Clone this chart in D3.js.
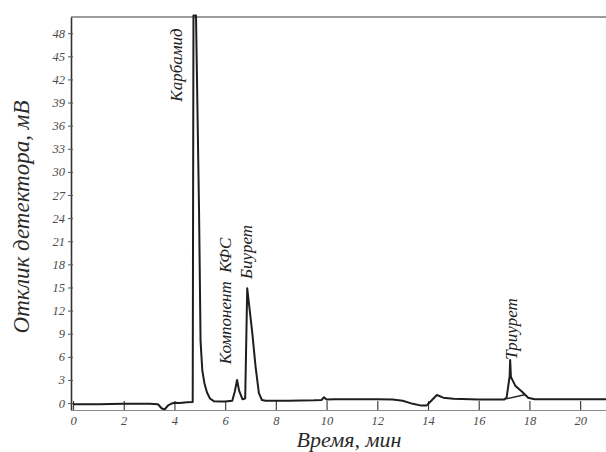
<!DOCTYPE html>
<html>
<head>
<meta charset="utf-8">
<script src="https://cdnjs.cloudflare.com/ajax/libs/d3/7.8.5/d3.min.js"></script>
<style>
  html, body { margin: 0; padding: 0; background: #fff; }
  svg { display: block; }
  .tick text { font-family: "Liberation Serif", "DejaVu Serif", serif; font-style: italic; fill: #4a4a4a; }
</style>
</head>
<body>
<svg id="chart" width="606" height="452"></svg>
<script>
// Chromatogram: retention time (min) vs detector response (mV)
const timeMin = [
  0, 1, 2, 3, 3.35, 3.5, 3.62, 3.75, 3.9, 4.0, 4.2, 4.5, 4.72,
  4.75, 4.85, 4.97, 5.03, 5.1, 5.18, 5.28, 5.4, 5.55, 5.8, 6.0,
  6.28, 6.38, 6.47, 6.55, 6.68, 6.79, 6.87, 7.07, 7.2, 7.33, 7.45, 7.6,
  8.5, 9.5, 9.8, 9.9, 10.0, 10.3, 11, 12, 12.6, 13.0, 13.4, 13.7, 13.95,
  14.1, 14.35, 14.6, 15.0, 16.0, 17.0, 17.1, 17.22, 17.24, 17.27, 17.45,
  17.7, 17.95, 18.2, 19, 20, 21.02
];
const responseMV = [
  -0.15, -0.15, -0.1, -0.1, -0.15, -0.7, -0.8, -0.3, -0.05, 0.05, 0.0, 0.1, 0.15,
  50.3, 50.3, 25, 8, 4.2, 2.6, 1.4, 0.6, 0.25, 0.2, 0.2,
  0.3, 1.5, 3.0, 1.6, 0.5, 0.6, 14.9, 9.1, 4.7, 1.3, 0.4, 0.3,
  0.3, 0.35, 0.4, 0.75, 0.45, 0.5, 0.5, 0.5, 0.45, 0.3, -0.1, -0.3, -0.3,
  0.2, 1.05, 0.7, 0.55, 0.45, 0.45, 0.7, 3.5, 5.6, 3.4, 2.2,
  1.5, 0.7, 0.5, 0.5, 0.5, 0.5
];
// Integration baseline under the last peak
const baseTime = [17.08, 17.85];
const baseResp = [0.55, 1.1];

const yTicks = [0, 3, 6, 9, 12, 15, 18, 21, 24, 27, 30, 33, 36, 39, 42, 45, 48];
const xTicks = [0, 2, 4, 6, 8, 10, 12, 14, 16, 18, 20];

const peakNames = ["Карбамид", "Компонент\u00a0\u00a0КФС", "Биурет", "Триурет"];
const peakTimes = [4.75, 6.47, 6.87, 17.24];

const svg = d3.select("#chart");
const x = d3.scaleLinear().domain([-0.08, 21.02]).range([71, 606]);
const y = d3.scaleLinear().domain([-0.9, 50.1]).range([410, 17]);

// frame: top border
svg.append("line")
  .attr("x1", 71).attr("x2", 606).attr("y1", 17).attr("y2", 17)
  .attr("stroke", "#7a7a7a").attr("stroke-width", 1.5);

// y axis
const gy = svg.append("g").attr("transform", "translate(71,0)")
  .call(d3.axisLeft(y).tickValues(yTicks).tickSizeInner(4).tickSizeOuter(0).tickPadding(4));
gy.select(".domain").attr("stroke", "#333").attr("stroke-width", 1.6);
gy.selectAll(".tick line").attr("x1", -3).attr("x2", 2).attr("stroke", "#555");
gy.selectAll(".tick text").attr("font-size", 12.5).attr("x", -6);

// x axis
const gx = svg.append("g").attr("transform", "translate(0,410)")
  .call(d3.axisBottom(x).tickValues(xTicks).tickSizeInner(-9).tickSizeOuter(0).tickPadding(6));
gx.select(".domain").attr("stroke", "#8a8a8a").attr("stroke-width", 1.2);
gx.selectAll(".tick line").attr("stroke", "#444").attr("stroke-width", 1.2);
gx.selectAll(".tick text").attr("font-size", 12.5);

// signal
svg.append("clipPath").attr("id", "plotClip")
  .append("rect").attr("x", 71).attr("y", 14).attr("width", 540).attr("height", 400);

const pts = timeMin.map((t, i) => [t, responseMV[i]]);
const line = d3.line().x(d => x(d[0])).y(d => y(d[1]));
svg.append("path").datum(pts)
  .attr("clip-path", "url(#plotClip)")
  .attr("fill", "none").attr("stroke", "#1e1e1e").attr("stroke-width", 2)
  .attr("stroke-linejoin", "round").attr("d", line);

svg.append("path").datum(baseTime.map((t, i) => [t, baseResp[i]]))
  .attr("fill", "none").attr("stroke", "#2a2a2a").attr("stroke-width", 1.5)
  .attr("d", line);

// peak labels, rotated
const labelFont = '"Liberation Serif", "DejaVu Serif", serif';
const labelPos = [
  { dx: -11, cy: 65 },
  { dx: -6,  cy: 301 },
  { dx: 5,   cy: 252 },
  { dx: 7,   cy: 329 }
];
peakNames.forEach((name, i) => {
  const px = x(peakTimes[i]) + labelPos[i].dx;
  svg.append("text")
    .attr("transform", `translate(${px},${labelPos[i].cy}) rotate(-90)`)
    .attr("text-anchor", "middle")
    .attr("font-family", labelFont).attr("font-style", "italic")
    .attr("font-size", 17).attr("fill", "#222")
    .text(name);
});

// axis titles
svg.append("text")
  .attr("x", 349).attr("y", 447)
  .attr("text-anchor", "middle")
  .attr("font-family", labelFont).attr("font-style", "italic")
  .attr("font-size", 22).attr("fill", "#2a2a2a")
  .text("Время, мин");

svg.append("text")
  .attr("transform", "translate(29,217) rotate(-90)")
  .attr("text-anchor", "middle")
  .attr("font-family", labelFont).attr("font-style", "italic")
  .attr("font-size", 23).attr("fill", "#2a2a2a")
  .text("Отклик детектора, мВ");
</script>
</body>
</html>
